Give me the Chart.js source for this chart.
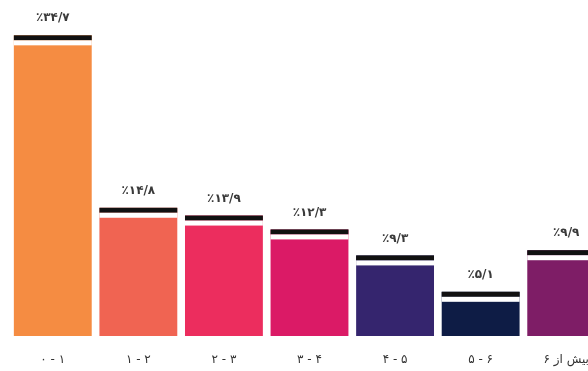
<!DOCTYPE html>
<html>
<head>
<meta charset="utf-8">
<script src="https://cdn.jsdelivr.net/npm/chart.js@4.4.0/dist/chart.umd.min.js"></script>
<style>
    html, body { margin: 0; padding: 0; background: #fff; overflow: hidden; }
    #wrap { width: 620px; height: 371px; }
</style>
</head>
<body>
<div id="wrap"><canvas id="grafico" width="620" height="371"></canvas></div>
<script>
// categorias y valores (porcentaje)
const categorias = ['۰ - ۱', '۱ - ۲', '۲ - ۳', '۳ - ۴', '۴ - ۵', '۵ - ۶', 'بیش از ۶'];
const valores = [34.7, 14.8, 13.9, 12.3, 9.3, 5.1, 9.9];
const etiquetas = ['٪۳۴/۷', '٪۱۴/۸', '٪۱۳/۹', '٪۱۲/۳', '٪۹/۳', '٪۵/۱', '٪۹/۹'];
const colores = ['#F58C42', '#F06452', '#EC2D5E', '#DB1A66', '#35256E', '#0E1C45', '#7E1D66'];

// dibuja la tapa negra y el texto sobre cada barra
const tapas = {
    id: 'tapas',
    afterDatasetsDraw(chart) {
        const ctx = chart.ctx;
        const meta = chart.getDatasetMeta(0);
        ctx.save();
        meta.data.forEach((bar, i) => {
            const w = bar.width;
            const x0 = bar.x - w / 2;
            ctx.fillStyle = '#111';
            ctx.fillRect(x0, bar.y, w, 5);
            ctx.fillStyle = '#fff';
            ctx.fillRect(x0, bar.y + 5, w, 5);
            ctx.fillStyle = '#3a3a3a';
            ctx.font = 'bold 12px "DejaVu Sans"';
            ctx.textAlign = 'center';
            ctx.textBaseline = 'middle';
            ctx.fillText(etiquetas[i], bar.x, bar.y - 17);
        });
        ctx.restore();
    }
};

new Chart(document.getElementById('grafico'), {
    type: 'bar',
    data: {
        labels: categorias,
        datasets: [{
            data: valores,
            backgroundColor: colores,
            borderWidth: 0,
            barPercentage: 0.91,
            categoryPercentage: 1
        }]
    },
    options: {
        responsive: false,
        animation: false,
        layout: { padding: { left: 10, right: 11, top: 5, bottom: 0 } },
        plugins: {
            legend: { display: false },
            tooltip: { enabled: false }
        },
        scales: {
            y: {
                display: false,
                min: 0,
                max: 38.2
            },
            x: {
                grid: { display: false },
                border: { display: false },
                ticks: {
                    color: '#333',
                    font: { family: 'DejaVu Sans', size: 12 },
                    padding: 9,
                    maxRotation: 0
                },
                afterFit(scale) { scale.height = 35; }
            }
        }
    },
    plugins: [tapas]
});
</script>
</body>
</html>
